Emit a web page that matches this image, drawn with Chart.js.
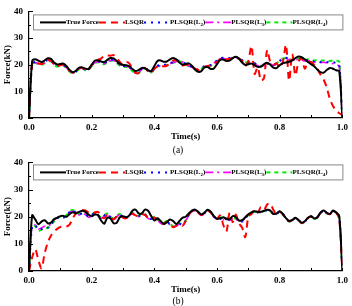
<!DOCTYPE html>
<html><head><meta charset="utf-8">
<script src="https://cdn.jsdelivr.net/npm/chart.js@4"></script>
<style>
html,body{margin:0;padding:0;background:#fff;}
#wrap{position:relative;width:352px;height:306px;overflow:hidden;}
canvas{position:absolute;left:0;}
</style></head>
<body><div id="wrap">
<canvas id="ca" width="352" height="160" style="top:0px"></canvas>
<canvas id="cb" width="352" height="155" style="top:151px"></canvas>
</div>
<script>
const timeS = [0,0.01,0.02,0.03,0.04,0.05,0.06,0.07,0.08,0.09,
0.10,0.11,0.12,0.13,0.14,0.15,0.16,0.17,0.18,0.19,
0.20,0.21,0.22,0.23,0.24,0.25,0.26,0.27,0.28,0.29,
0.30,0.31,0.32,0.33,0.34,0.35,0.36,0.37,0.38,0.39,
0.40,0.41,0.42,0.43,0.44,0.45,0.46,0.47,0.48,0.49,
0.50,0.51,0.52,0.53,0.54,0.55,0.56,0.57,0.58,0.59,
0.60,0.61,0.62,0.63,0.64,0.65,0.66,0.67,0.68,0.69,
0.70,0.71,0.72,0.73,0.74,0.75,0.76,0.77,0.78,0.79,
0.80,0.81,0.82,0.83,0.84,0.85,0.86,0.87,0.88,0.89,
0.90,0.91,0.92,0.93,0.94,0.95,0.96,0.97,0.98,0.99,1.00];

const seriesNames = ['True Force','LSQR','PLSQR(L2)','PLSQR(L3)','PLSQR(L4)'];
const yTicks = [0,10,20,30,40];
const xTickLabels = ['0.0','0.2','0.4','0.6','0.8','1.0'];
const panelLabels = ['(a)','(b)'];

// ---- panel (a)
const trueA = [0,21.3,22.0,21.5,21.0,21.6,22.4,22.2,20.8,20.1,
20.3,20.4,19.4,18.0,17.2,17.8,18.9,19.0,18.5,18.4,
20.0,21.5,21.6,21.2,21.0,21.8,22.5,22.4,21.4,20.3,
19.9,19.8,19.4,18.4,17.6,18.0,18.8,18.6,17.9,17.6,
19.5,21.4,21.6,21.1,21.2,22.0,22.5,22.0,20.8,20.0,
20.3,20.5,19.6,18.2,17.3,17.6,19.0,19.1,18.4,18.6,
20.2,21.8,21.9,21.4,21.5,22.5,23.0,22.3,20.8,19.9,
20.2,20.4,19.8,19.2,19.3,20.2,20.7,20.0,18.9,18.7,
19.8,20.6,20.8,21.1,21.6,22.5,23.1,22.8,22.0,21.0,
20.2,19.4,18.2,17.2,17.0,18.0,18.8,18.5,17.9,17.6,0];
const lsqrA = [0,20.3,20.9,20.5,20.2,20.9,21.7,21.5,20.2,19.6,
19.8,19.9,18.9,17.6,17.0,17.5,18.6,18.8,18.1,18.3,
19.8,21.0,21.8,22.3,23.3,23.5,23.4,23.6,22.5,21.0,
20.0,21.0,20.5,18.5,17.0,16.8,18.5,18.8,17.5,17.0,
18.5,19.3,19.5,19.4,19.6,20.5,21.5,21.8,20.5,19.7,
20.0,20.0,19.3,18.5,18.0,18.6,19.2,19.5,19.8,20.5,
21.0,22.0,22.2,22.0,22.2,22.5,22.6,22.3,21.5,19.5,
21.5,27.0,16.5,19.0,14.0,15.0,25.5,21.0,20.0,20.5,
19.0,21.0,27.5,14.0,24.0,16.0,21.0,22.5,18.5,21.0,
21.0,20.0,18.5,16.3,14.5,11.5,7.2,4.5,2.8,1.8,1.2];
const l2A = [0,20.5,21.0,20.6,20.3,21.0,21.8,21.6,20.3,19.7,
19.9,20.0,19.0,17.7,17.0,17.6,18.6,18.8,18.2,18.3,
19.8,21.0,21.3,20.8,20.6,21.2,21.8,21.9,21.0,20.0,
19.5,19.6,19.2,18.0,17.0,17.2,18.5,18.9,18.0,17.4,
18.5,19.6,19.8,19.9,20.2,20.6,21.0,21.4,21.5,21.2,
20.3,19.8,19.2,18.5,18.2,18.8,19.4,19.6,19.9,20.8,
21.6,22.4,22.6,22.3,22.5,22.8,22.9,22.4,21.7,21.0,
21.0,21.2,20.6,19.8,19.4,19.8,20.3,20.4,20.0,20.4,
21.4,22.4,22.6,22.0,21.8,22.0,22.2,21.9,21.6,21.8,
21.5,21.2,21.3,21.0,21.1,21.0,20.8,20.9,20.6,20.0,0];
const l3A = [0,20.2,20.8,20.4,20.0,20.8,21.6,21.4,20.1,19.5,
19.8,19.9,18.8,17.5,16.9,17.5,18.5,18.7,18.0,18.1,
19.6,20.8,21.1,20.6,20.4,21.0,21.6,21.7,20.8,19.8,
19.3,19.4,19.0,17.8,16.8,17.1,18.4,18.7,17.8,17.2,
18.3,19.4,19.6,19.7,20.0,20.4,20.8,21.2,21.3,21.0,
20.1,19.6,19.0,18.3,18.0,18.6,19.2,19.4,19.7,20.6,
21.4,22.2,22.4,22.1,22.3,22.6,22.7,22.2,21.5,20.8,
20.8,21.0,20.4,19.6,19.2,19.6,20.1,20.2,19.8,20.2,
21.2,22.2,22.4,21.8,21.6,21.8,22.0,21.7,21.4,21.6,
21.3,21.0,21.1,20.8,20.9,20.7,20.5,20.4,20.0,19.5,0];
const l4A = [0,20.0,20.6,20.2,19.9,20.6,21.4,21.2,19.9,19.3,
19.6,19.7,18.6,17.4,16.8,17.3,18.3,18.5,17.9,18.0,
19.4,20.6,20.9,20.4,20.2,20.8,21.4,21.5,20.6,19.6,
19.1,19.2,18.8,17.6,16.7,17.0,18.2,18.6,17.7,17.1,
18.2,19.3,19.5,19.6,19.9,20.3,20.7,21.1,21.2,20.9,
20.0,19.5,18.9,18.2,17.9,18.5,19.1,19.3,19.6,20.5,
21.3,22.1,22.3,22.0,22.2,22.5,22.6,22.1,21.4,20.9,
20.9,21.1,20.5,19.7,19.4,19.7,20.2,20.3,20.0,20.5,
21.5,22.3,22.5,22.1,21.9,22.1,22.3,22.0,21.8,22.0,
21.8,21.6,21.7,21.5,21.6,21.5,21.4,21.6,21.5,21.2,0];

// ---- panel (b)
const trueB = [0,20.5,19.0,17.2,18.2,18.7,17.6,17.8,19.1,19.6,
20.2,20.3,20.0,21.0,21.6,21.2,21.8,22.2,21.8,20.8,
20.2,20.8,20.6,18.6,17.4,19.6,19.3,17.6,17.8,19.8,
20.2,19.8,20.5,22.2,22.6,21.2,21.2,22.6,22.2,20.2,
18.6,19.4,18.4,17.3,18.0,19.0,18.4,17.3,18.4,19.6,
20.0,21.2,22.2,22.6,21.8,20.8,21.5,22.6,21.8,20.2,
19.2,19.4,19.8,19.2,19.0,20.2,19.8,18.6,18.7,19.8,
20.9,21.6,22.0,21.8,21.8,22.2,22.6,22.3,21.0,21.2,
22.0,21.0,19.5,18.4,18.8,19.6,18.8,17.8,18.3,19.6,
20.2,19.4,19.8,21.5,22.3,21.5,21.0,22.3,21.6,20.2,0];
const lsqrB = [0,5.0,8.0,4.0,1.0,6.5,10.5,13.0,14.5,15.5,
16.2,16.3,16.4,17.2,19.5,21.2,22.0,22.5,22.3,21.5,
21.0,21.6,21.8,20.5,19.4,20.6,19.6,19.0,20.0,20.6,
19.7,19.4,20.5,21.1,20.5,20.1,20.9,20.7,19.5,19.1,
19.7,18.9,17.7,17.5,18.1,17.1,16.1,16.7,17.3,16.7,
18.4,20.7,21.9,22.3,21.5,20.6,21.3,22.3,21.5,19.9,
19.3,20.5,17.0,14.5,21.5,18.0,20.8,17.5,16.0,12.5,
20.0,21.0,22.5,21.5,23.5,22.5,24.5,24.8,22.5,21.0,
21.8,20.9,19.4,18.3,18.7,19.5,18.7,17.7,18.2,19.5,
20.1,19.3,19.7,21.4,22.2,21.4,20.9,22.2,21.5,19.0,0];
const l2B = [0,16.5,16.8,15.2,15.5,16.3,16.0,17.2,18.5,19.5,
20.0,19.6,20.3,21.8,22.3,21.5,20.8,21.3,21.0,20.0,
20.5,21.3,20.5,19.6,20.4,21.0,19.8,19.2,20.2,20.8,
19.8,19.5,20.6,21.2,20.6,20.2,21.0,20.8,19.6,19.2,
19.8,19.0,17.8,17.6,18.2,17.2,16.2,16.8,17.4,16.8,
18.5,20.8,22.0,22.4,21.6,20.7,21.4,22.4,21.6,20.0,
19.4,19.0,20.2,19.0,19.8,18.6,19.6,19.2,18.2,19.5,
20.6,21.4,21.8,21.6,21.7,22.0,22.4,22.1,21.0,21.1,
21.8,20.9,19.4,18.3,18.7,19.5,18.7,17.8,18.2,19.5,
20.1,19.3,19.7,21.3,22.1,21.4,20.9,22.1,21.5,20.0,0];
const l3B = [0,16.8,17.0,15.5,15.8,16.5,16.3,17.4,18.8,19.7,
20.2,19.8,20.5,21.6,22.0,21.3,20.6,21.1,20.8,19.8,
20.3,21.1,20.3,19.4,20.2,20.8,19.6,19.0,20.0,20.6,
19.6,19.3,20.4,21.0,20.4,20.0,20.8,20.6,19.4,19.0,
19.6,18.8,17.6,17.4,18.0,17.0,16.0,16.6,17.2,16.6,
18.3,20.6,21.8,22.2,21.4,20.5,21.2,22.2,21.4,19.8,
19.2,19.6,18.8,20.0,18.6,19.4,18.8,19.0,18.4,19.6,
20.7,21.5,21.9,21.7,21.8,22.1,22.5,22.2,21.0,21.1,
21.9,20.9,19.4,18.3,18.7,19.5,18.7,17.7,18.2,19.5,
20.1,19.3,19.7,21.4,22.2,21.4,20.9,22.2,21.5,19.8,0];
const l4B = [0,17.0,16.5,14.8,15.2,16.0,15.8,17.0,18.3,19.4,
20.1,19.8,20.6,22.0,22.5,21.7,21.0,21.5,21.2,20.2,
20.7,21.5,20.7,19.8,20.6,21.2,20.0,19.4,20.4,21.0,
20.0,19.7,20.8,21.4,20.8,20.4,21.2,21.0,19.8,19.4,
20.0,19.2,18.0,17.8,18.4,17.4,16.5,17.0,17.6,17.0,
18.7,21.0,22.1,22.5,21.7,20.8,21.5,22.5,21.7,20.1,
19.5,19.8,19.4,19.6,19.4,19.9,19.2,19.4,18.5,19.6,
20.6,21.4,21.8,21.6,21.7,22.0,22.4,22.1,20.9,21.0,
21.8,20.8,19.3,18.2,18.6,19.4,18.6,17.6,18.1,19.4,
20.0,19.2,19.6,21.3,22.1,21.3,20.8,22.0,21.4,19.9,0];

const styles = [
  {color:'#000000', width:2, dash:[]},
  {color:'#ff0000', width:2, dash:[7,5]},
  {color:'#0000ff', width:2, dash:[2,5]},
  {color:'#ff00ff', width:1.6, dash:[8,4,2,4]},
  {color:'#00ee00', width:2, dash:[4,4]}
];
const FONT = '"Liberation Serif","Times New Roman",serif';

const decorPlugin = {
  id:'decor',
  afterDraw(chart, args, opts){
    const ctx = chart.ctx, ca = chart.chartArea;
    const xs = chart.scales.x, ys = chart.scales.y;
    ctx.save();
    ctx.strokeStyle = '#000'; ctx.lineWidth = 1;
    xs.ticks.forEach(t => {
      const px = Math.round(xs.getPixelForValue(t.value)) + 0.5;
      ctx.beginPath(); ctx.moveTo(px, ca.bottom); ctx.lineTo(px, ca.bottom - 3); ctx.stroke();
    });
    ys.ticks.forEach(t => {
      const py = Math.round(ys.getPixelForValue(t.value)) + 0.5;
      ctx.beginPath(); ctx.moveTo(ca.left, py); ctx.lineTo(ca.left + 4, py); ctx.stroke();
      if (t.value + 5 < ys.max) {
        const pm = Math.round(ys.getPixelForValue(t.value + 5)) + 0.5;
        ctx.beginPath(); ctx.moveTo(ca.left, pm); ctx.lineTo(ca.left + 2, pm); ctx.stroke();
      }
    });
    // legend box
    const bx = ca.left + 4, by = ca.top + opts.boxOff, bw = ca.right - bx, bh = 15;
    ctx.fillStyle = '#fff';
    ctx.fillRect(bx, by, bw, bh);
    ctx.strokeStyle = '#888'; ctx.lineWidth = 1;
    ctx.strokeRect(bx + 0.5, by + 0.5, bw, bh);
    const cy = by + bh / 2 + 0.5;
    let x = bx + 7;
    chart.data.datasets.forEach((ds) => {
      ctx.save();
      ctx.strokeStyle = ds.borderColor; ctx.lineWidth = ds.borderWidth;
      ctx.setLineDash(ds.borderDash || []);
      ctx.beginPath(); ctx.moveTo(x, cy); ctx.lineTo(x + 26, cy); ctx.stroke();
      ctx.restore();
      let tx = x + 26;
      ctx.fillStyle = '#000'; ctx.textBaseline = 'middle'; ctx.textAlign = 'left';
      const m = ds.label.match(/^(.*\(L)(\d)\)$/);
      if (m) {
        ctx.font = 'bold 7px ' + FONT;
        ctx.fillText(m[1], tx, cy); tx += ctx.measureText(m[1]).width;
        ctx.font = 'bold 5px ' + FONT;
        ctx.fillText(m[2], tx, cy + 2); tx += ctx.measureText(m[2]).width;
        ctx.font = 'bold 7px ' + FONT;
        ctx.fillText(')', tx, cy); tx += ctx.measureText(')').width;
      } else {
        ctx.font = 'bold 7px ' + FONT;
        ctx.fillText(ds.label, tx, cy); tx += ctx.measureText(ds.label).width;
      }
      x = tx;
    });
    // y title
    ctx.save();
    ctx.translate(7.5, (ca.top + ca.bottom) / 2);
    ctx.rotate(-Math.PI / 2);
    ctx.font = 'bold 9px ' + FONT; ctx.fillStyle = '#000';
    ctx.textAlign = 'center'; ctx.textBaseline = 'middle';
    ctx.fillText('Force(kN)', 0, 0);
    ctx.restore();
    // panel label
    ctx.font = '9.5px ' + FONT; ctx.fillStyle = '#000';
    ctx.textAlign = 'center'; ctx.textBaseline = 'middle';
    ctx.fillText(opts.panel, opts.panelX, opts.panelY);
    ctx.restore();
  }
};

function makeChart(id, series, panel, pad, boxOff, panelY){
  const datasets = series.map((arr, i) => ({
    label: seriesNames[i],
    data: timeS.map((t, k) => ({x: t, y: arr[k]})),
    borderColor: styles[i].color,
    borderWidth: styles[i].width,
    borderDash: styles[i].dash,
    pointRadius: 0,
    tension: 0.3,
    fill: false
  }));
  return new Chart(document.getElementById(id), {
    type: 'line',
    data: {datasets},
    plugins: [decorPlugin],
    options: {
      responsive: false, animation: false, devicePixelRatio: 1,
      layout: {padding: pad},
      plugins: {legend: {display: false}, tooltip: {enabled: false},
        decor: {panel: panel, panelX: 178, panelY: panelY, boxOff: boxOff}},
      scales: {
        x: {type: 'linear', min: 0, max: 1,
          afterFit(s){ s.height = 24; },
          grid: {display: false, drawTicks: false},
          border: {display: true, color: '#000', width: 1.2},
          ticks: {stepSize: 0.1, autoSkip: false, maxRotation: 0, padding: 4, color: '#000',
            font: {family: FONT, weight: 'bold', size: 9},
            callback: (v) => { const k = Math.round(v * 10); return k % 2 === 0 ? xTickLabels[k / 2] : ''; }},
          title: {display: true, text: 'Time(s)', color: '#000', padding: {top: 0, bottom: 0},
            font: {family: FONT, weight: 'bold', size: 9}}
        },
        y: {min: 0, max: 40,
          afterFit(s){ s.width = 29; },
          afterBuildTicks(s){ s.ticks = yTicks.map(v => ({value: v})); },
          grid: {display: false, drawTicks: false},
          border: {display: true, color: '#000', width: 1.2},
          ticks: {padding: 6, color: '#000', font: {family: FONT, weight: 'bold', size: 9}},
          title: {display: false}
        }
      }
    }
  });
}

makeChart('ca', [trueA, lsqrA, l2A, l3A, l4A], panelLabels[0], {top: 9, right: 9, bottom: 18, left: 0}, 3, 150);
makeChart('cb', [trueB, lsqrB, l2B, l3B, l4B], panelLabels[1], {top: 9, right: 9, bottom: 11, left: 0}, 2, 150);
</script>
</body></html>
